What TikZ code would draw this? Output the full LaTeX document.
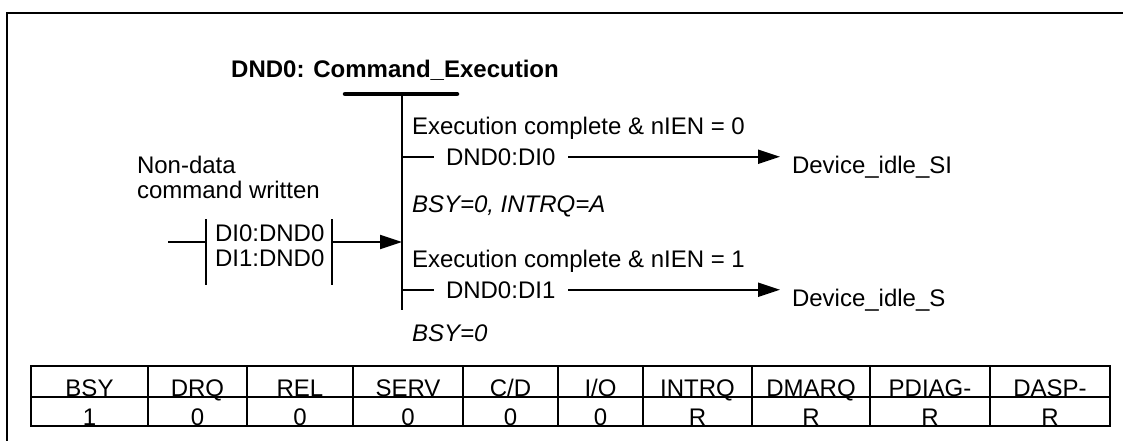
\documentclass[tikz,border=0pt]{standalone}
\usepackage{fontspec}
\setmainfont{Liberation Sans}
\usetikzlibrary{arrows.meta}
\begin{document}
\begin{tikzpicture}[x=1pt,y=-1pt,
  every node/.style={inner sep=0pt, outer sep=0pt, font=\fontsize{24}{28}\selectfont},
  ln/.style={line width=2pt},
  arr/.style={ln, -{Triangle[length=22pt,width=14pt]}},
  lbl/.style={anchor=base west},
  cell/.style={anchor=base}]
\useasboundingbox (0,0) rectangle (1123,441);
% frame
\draw[line width=2.5pt] (7,441) -- (7,13) -- (1123,13);
% title and state bar
\node[font=\fontsize{24}{28}\selectfont\bfseries] (title) at (395,70) {DND0: Command\_Execution};
\coordinate (barL) at (345,94);
\coordinate (barR) at (457,94);
\draw[line width=4.5pt, line cap=round] (barL) -- (barR);
\coordinate (vtop) at (402,94);
\coordinate (vbot) at (402,310);
\draw[ln] (vtop) -- (vbot);
% entry
\node[lbl] (nd1) at (137,173) {Non-data};
\node[lbl] (nd2) at (137,198) {command written};
\node (inbox) at (269,252) [minimum width=126pt, minimum height=66pt] {};
\node[lbl] (di0dnd0) at (215,241) {DI0:DND0};
\node[lbl] (di1dnd0) at (215,266) {DI1:DND0};
\draw[ln] (inbox.north west) -- (inbox.south west);
\draw[ln] (inbox.north east) -- (inbox.south east);
\coordinate (inL) at (168,242);
\draw[ln] (inL) -- (inL -| inbox.west);
\draw[arr] (inL -| inbox.east) -- (inL -| vtop);
% branch 1
\node[lbl] (ex1) at (412,135) {Execution complete \& nIEN = 0};
\node[lbl] (dnd0di0) at (446,165) {DND0:DI0};
\node[lbl] (idleSI) at (792,173) {Device\_idle\_SI};
\node[lbl] (act1) at (412,212) {\itshape BSY=0, INTRQ=A};
\draw[ln] (vtop |- dnd0di0.west) -- ([xshift=-12pt]dnd0di0.west);
\draw[arr] ([xshift=13pt]dnd0di0.east) -- ([xshift=-12pt]dnd0di0.east -| idleSI.west);
% branch 2
\node[lbl] (ex2) at (412,267) {Execution complete \& nIEN = 1};
\node[lbl] (dnd0di1) at (446,298) {DND0:DI1};
\node[lbl] (idleS) at (792,306) {Device\_idle\_S};
\node[lbl] (act2) at (412,341) {\itshape BSY=0};
\draw[ln] (vtop |- dnd0di1.west) -- ([xshift=-12pt]dnd0di1.west);
\draw[arr] ([xshift=13pt]dnd0di1.east) -- ([xshift=-12pt]dnd0di1.east -| idleS.west);
% table
\draw[ln] (31,366) rectangle (1110,426);
\draw[ln] (31,397) -- (1110,397);
\foreach \x in {148,247,353,463,558,643,752,870,990} \draw[ln] (\x,366) -- (\x,426);
\node[cell] (h1) at (89.5,396) {BSY};
\node[cell] (h2) at (197.5,396) {DRQ};
\node[cell] (h3) at (300,396) {REL};
\node[cell] (h4) at (408,396) {SERV};
\node[cell] (h5) at (510.5,396) {C/D};
\node[cell] (h6) at (600.5,396) {I/O};
\node[cell] (h7) at (697.5,396) {INTRQ};
\node[cell] (h8) at (811,396) {DMARQ};
\node[cell] (h9) at (930,396) {PDIAG-};
\node[cell] (h10) at (1050,396) {DASP-};
\node[cell] (v1) at (89.5,425) {1};
\node[cell] (v2) at (197.5,425) {0};
\node[cell] (v3) at (300,425) {0};
\node[cell] (v4) at (408,425) {0};
\node[cell] (v5) at (510.5,425) {0};
\node[cell] (v6) at (600.5,425) {0};
\node[cell] (v7) at (697.5,425) {R};
\node[cell] (v8) at (811,425) {R};
\node[cell] (v9) at (930,425) {R};
\node[cell] (v10) at (1050,425) {R};
\end{tikzpicture}
\end{document}
